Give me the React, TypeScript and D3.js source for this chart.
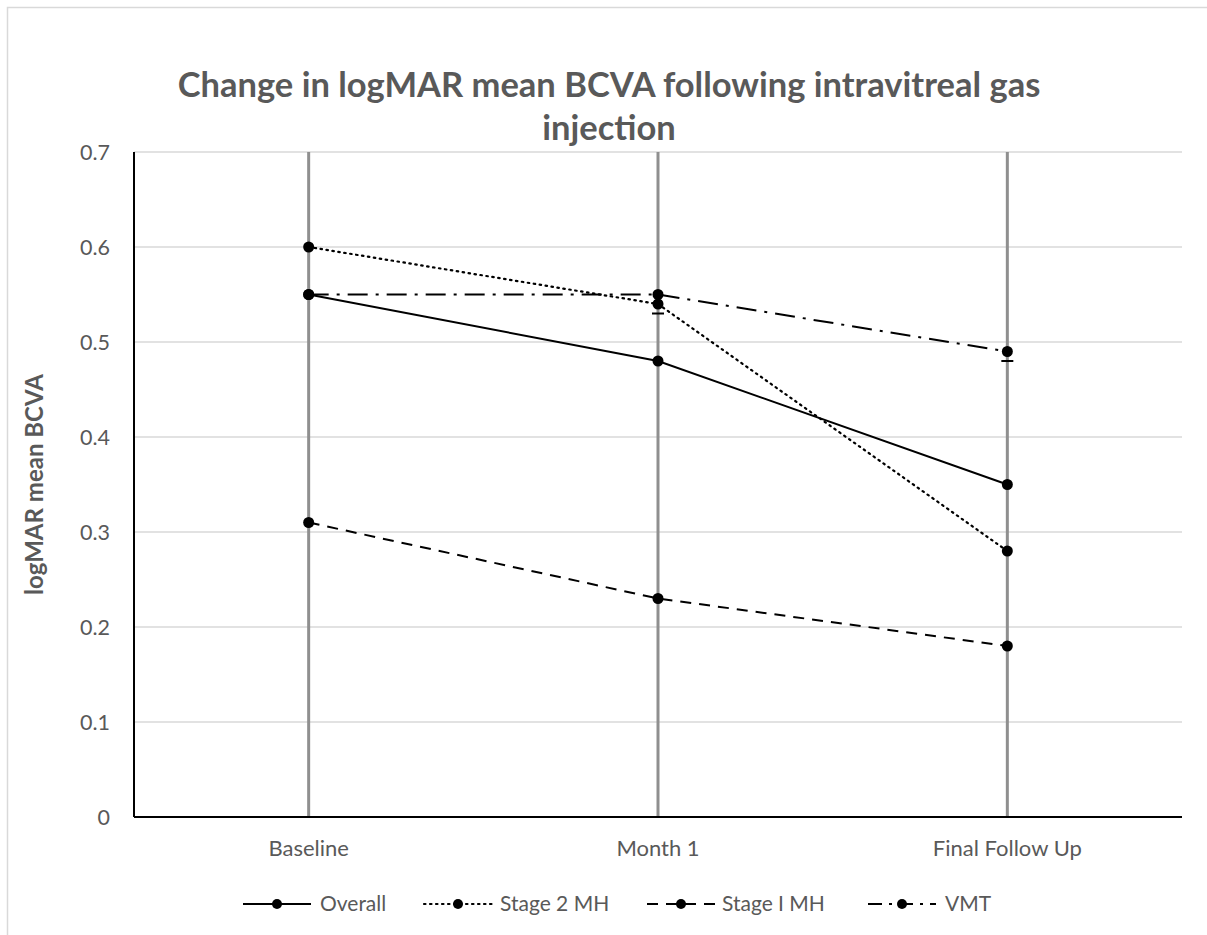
import React from "react";
import * as d3 from "d3";

const categories = ["Baseline", "Month 1", "Final Follow Up"];
const overall = [0.55, 0.48, 0.35];
const stage2MH = [0.6, 0.54, 0.28];
const stage1MH = [0.31, 0.23, 0.18];
const vmt = [0.55, 0.55, 0.49];
const errorLow = [0, 0, 0];
const errorHigh = [0.7, 0.7, 0.7];
const capValues: (number | null)[] = [null, 0.53, 0.48];
const yTicks = [0, 0.1, 0.2, 0.3, 0.4, 0.5, 0.6, 0.7];

const seriesList = [
  { name: "Overall", values: overall, dash: "none", cap: "butt" },
  { name: "Stage 2 MH", values: stage2MH, dash: "1.5 4.5", cap: "round" },
  { name: "Stage I MH", values: stage1MH, dash: "11 8", cap: "butt" },
  { name: "VMT", values: vmt, dash: "20 8 3 8", cap: "butt" },
];

const W = 1207;
const H = 935;
const left = 134;
const right = 1182;
const top = 152;
const bottom = 817;
const textColor = "#595959";
const font = "Lato, 'Open Sans', sans-serif";

export default function App() {
  const x = d3.scaleBand<string>().domain(categories).range([left, right]);
  const y = d3.scaleLinear().domain([0, 0.7]).range([bottom, top]);
  const cx = (c: string) => (x(c) as number) + x.bandwidth() / 2;
  const line = d3
    .line<number>()
    .x((_, i) => cx(categories[i]))
    .y((d) => y(d));

  const legendItems = [
    { x0: 243, tx: 320 },
    { x0: 424, tx: 500 },
    { x0: 647, tx: 722 },
    { x0: 868, tx: 945 },
  ];
  const legendY = 904;

  return (
    <svg
      width={W}
      height={H}
      style={{ position: "absolute", left: 0, top: 0, background: "#fff" }}
    >
      <rect x={0} y={0} width={W} height={H} fill="#fff" />
      <rect
        x={7.5}
        y={7.5}
        width={1400}
        height={1200}
        fill="none"
        stroke="#d9d9d9"
        strokeWidth={1.5}
      />
      <text
        x={609}
        y={97}
        textAnchor="middle"
        fontFamily={font}
        fontWeight="bold"
        fontSize={34.5}
        fill={textColor}
      >
        Change in logMAR mean BCVA following intravitreal gas
      </text>
      <text
        x={609}
        y={140}
        textAnchor="middle"
        fontFamily={font}
        fontWeight="bold"
        fontSize={34.5}
        fill={textColor}
      >
        injection
      </text>

      {yTicks.map((t) => (
        <g key={t}>
          {t > 0 && (
            <line
              x1={left}
              x2={right}
              y1={y(t)}
              y2={y(t)}
              stroke="#d9d9d9"
              strokeWidth={1.5}
            />
          )}
          <text
            x={110}
            y={y(t)}
            dy="0.35em"
            textAnchor="end"
            fontFamily={font}
            fontSize={21.5}
            fill={textColor}
          >
            {t === 0 ? "0" : d3.format(".1f")(t)}
          </text>
        </g>
      ))}

      {categories.map((c, i) => (
        <g key={c}>
          <line
            x1={cx(c)}
            x2={cx(c)}
            y1={y(errorLow[i])}
            y2={y(errorHigh[i])}
            stroke="#8f8f8f"
            strokeWidth={3}
          />
          {capValues[i] !== null && (
            <line
              x1={cx(c) - 6}
              x2={cx(c) + 6}
              y1={y(capValues[i] as number)}
              y2={y(capValues[i] as number)}
              stroke="#000"
              strokeWidth={2}
            />
          )}
          <text
            x={cx(c)}
            y={856}
            textAnchor="middle"
            fontFamily={font}
            fontSize={22}
            fill={textColor}
          >
            {c}
          </text>
        </g>
      ))}

      <line x1={left} x2={left} y1={top} y2={bottom} stroke="#000" strokeWidth={2} />
      <line x1={left} x2={right} y1={bottom} y2={bottom} stroke="#000" strokeWidth={2} />

      {seriesList.map((s) => (
        <g key={s.name}>
          <path
            d={line(s.values) as string}
            fill="none"
            stroke="#000"
            strokeWidth={s.cap === "round" ? 2.2 : 2}
            strokeDasharray={s.dash}
            strokeLinecap={s.cap as any}
          />
          {s.values.map((v, i) => (
            <circle key={i} cx={cx(categories[i])} cy={y(v)} r={5.5} fill="#000" />
          ))}
        </g>
      ))}

      <text
        transform={`translate(43,${(top + bottom) / 2}) rotate(-90)`}
        textAnchor="middle"
        fontFamily={font}
        fontWeight="bold"
        fontSize={24}
        fill={textColor}
      >
        logMAR mean BCVA
      </text>

      {seriesList.map((s, i) => {
        const it = legendItems[i];
        const mid = it.x0 + 34;
        return (
          <g key={s.name}>
            <line
              x1={it.x0}
              x2={it.x0 + 68}
              y1={legendY}
              y2={legendY}
              stroke="#000"
              strokeWidth={s.cap === "round" ? 2.2 : 2}
              strokeDasharray={s.dash === "20 8 3 8" ? "14 7 3 7" : s.dash}
              strokeLinecap={s.cap as any}
            />
            <circle cx={mid} cy={legendY} r={5} fill="#000" />
            <text
              x={it.tx}
              y={legendY}
              dy="0.35em"
              fontFamily={font}
              fontSize={21}
              fill={textColor}
            >
              {s.name}
            </text>
          </g>
        );
      })}
    </svg>
  );
}
